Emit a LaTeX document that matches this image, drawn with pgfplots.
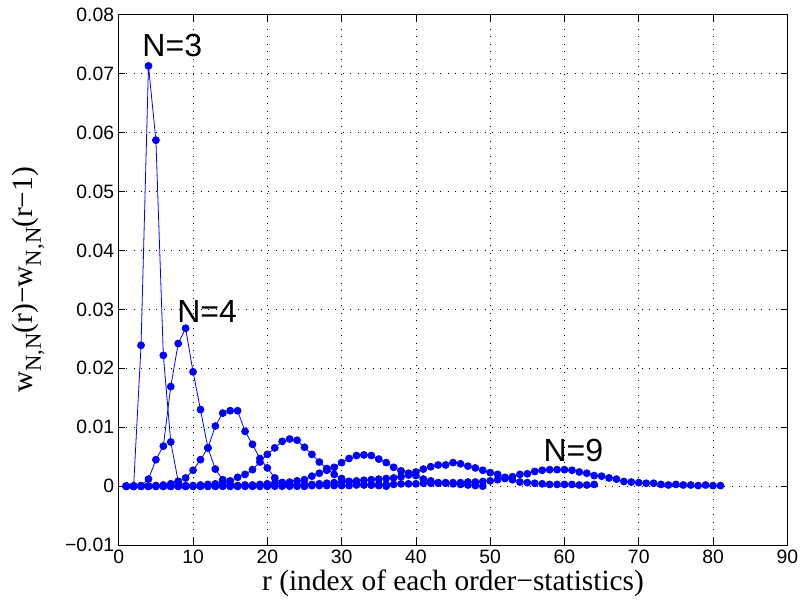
\documentclass[border=0pt]{standalone}
\usepackage{pgfplots}
\pgfplotsset{compat=1.18}
\usepackage{fontspec}
\setmainfont{Liberation Serif}
\newfontfamily\arial{Liberation Sans}
\definecolor{mblue}{RGB}{0,0,255}
\newcommand{\sub}[1]{\raisebox{-0.6ex}{\fontsize{17}{17}\selectfont #1}}
\pgfplotsset{myst/.style={color=mblue, line width=0.6pt, mark=*, mark size=2.6pt, mark options={fill=mblue, draw=mblue, solid}}}
\begin{document}
\begin{tikzpicture}
\useasboundingbox (-89pt,-46pt) rectangle (512pt,408.5pt);
\begin{axis}[
  anchor=south west, at={(0,0)},
  scale only axis, width=501pt, height=397.5pt,
  xmin=0, xmax=90, ymin=-0.01, ymax=0.08,
  xtick={0,10,20,30,40,50,60,70,80,90},
  xticklabels={0,10,20,30,40,50,60,70,80,90},
  ytick={-0.01,0,0.01,0.02,0.03,0.04,0.05,0.06,0.07,0.08},
  yticklabels={−0.01,0,0.01,0.02,0.03,0.04,0.05,0.06,0.07,0.08},
  tick align=inside, major tick length=5pt,
  tick style={black, line width=0.6pt},
  grid=major,
  major grid style={black, line width=0.6pt, dash pattern=on 0.6pt off 5pt},
  axis line style={black, line width=0.75pt},
  ticklabel style={font=\arial\fontsize{14.5}{17}\selectfont},
  xlabel={r (index of each order−statistics)},
  ylabel={w\sub{N,N}(r)−w\sub{N,N}(r−1)},
  label style={font=\fontsize{22}{26}\selectfont},
  xlabel style={at={(axis description cs:0.5,-0.072)}, anchor=center},
  ylabel style={at={(axis description cs:-0.135,0.5)}, anchor=center},
]
% N=3
\addplot[myst] coordinates {(1,0)(2,0)(3,0.0239)(4,0.0713)(5,0.0587)(6,0.0222)(7,0.0075)(8,0.0008)(9,0)};
% N=4
\addplot[myst] coordinates {(1,0)(2,0)(3,0.0001)(4,0.0012)(5,0.0045)(6,0.0068)(7,0.0169)(8,0.0242)(9,0.0268)(10,0.0194)(11,0.0130)(12,0.0065)(13,0.0029)(14,0.0011)(15,0.0003)(16,0)};
% N=5
\addplot[myst] coordinates {(1,0)(2,0)(3,0)(4,0)(5,0.0001)(6,0.0002)(7,0.0004)(8,0.0008)(9,0.0014)(10,0.0027)(11,0.0045)(12,0.0065)(13,0.0102)(14,0.0124)(15,0.0128)(16,0.0128)(17,0.0093)(18,0.0071)(19,0.0047)(20,0.0031)(21,0.0014)(22,0.0006)(23,0.0003)(24,0.0001)(25,0)};
% N=6
\addplot[myst] coordinates {(1,0)(2,0)(3,0)(4,0)(5,0)(6,0)(7,0)(8,0)(9,0.0001)(10,0.0001)(11,0.0002)(12,0.0003)(13,0.0004)(14,0.0006)(15,0.0009)(16,0.0015)(17,0.0020)(18,0.0028)(19,0.0041)(20,0.0054)(21,0.0065)(22,0.0076)(23,0.0080)(24,0.0078)(25,0.0066)(26,0.0054)(27,0.0041)(28,0.0030)(29,0.0020)(30,0.0013)(31,0.0008)(32,0.0005)(33,0.0003)(34,0.0002)(35,0.0001)(36,0)};
% N=7
\addplot[myst] coordinates {(1,0)(2,0)(3,0)(4,0)(5,0)(6,0)(7,0)(8,0)(9,0)(10,0)(11,0)(12,0)(13,0)(14,0.0001)(15,0.0001)(16,0.0001)(17,0.0002)(18,0.0002)(19,0.0003)(20,0.0004)(21,0.0005)(22,0.0006)(23,0.0007)(24,0.0009)(25,0.0011)(26,0.0017)(27,0.0022)(28,0.0027)(29,0.0032)(30,0.0040)(31,0.0047)(32,0.0052)(33,0.0053)(34,0.0052)(35,0.0046)(36,0.0040)(37,0.0032)(38,0.0026)(39,0.0022)(40,0.0018)(41,0.0012)(42,0.0009)(43,0.0006)(44,0.0005)(45,0.0004)(46,0.0003)(47,0.0002)(48,0.0001)(49,0)};
% N=8
\addplot[myst] coordinates {(1,0)(2,0)(3,0)(4,0)(5,0)(6,0)(7,0)(8,0)(9,0)(10,0)(11,0)(12,0)(13,0)(14,0)(15,0)(16,0)(17,0)(18,0)(19,0)(20,0)(21,0.0001)(22,0.0001)(23,0.0002)(24,0.0002)(25,0.0003)(26,0.0003)(27,0.0004)(28,0.0005)(29,0.0006)(30,0.0007)(31,0.0008)(32,0.0009)(33,0.0010)(34,0.0011)(35,0.0012)(36,0.0013)(37,0.0014)(38,0.0016)(39,0.0019)(40,0.0024)(41,0.0029)(42,0.0033)(43,0.0036)(44,0.0036)(45,0.0040)(46,0.0038)(47,0.0034)(48,0.0031)(49,0.0027)(50,0.0023)(51,0.0020)(52,0.0015)(53,0.0011)(54,0.0007)(55,0.0006)(56,0.0005)(57,0.0004)(58,0.0003)(59,0.0003)(60,0.0003)(61,0.0003)(62,0.0002)(63,0.0002)(64,0.0003)};
% N=9
\addplot[myst] coordinates {(1,0)(2,0)(3,0)(4,0)(5,0)(6,0)(7,0)(8,0)(9,0)(10,0)(11,0)(12,0)(13,0)(14,0)(15,0)(16,0)(17,0)(18,0)(19,0)(20,0)(21,0)(22,0)(23,0)(24,0)(25,0)(26,0.0001)(27,0.0001)(28,0.0001)(29,0.0001)(30,0.0001)(31,0.0001)(32,0.0002)(33,0.0002)(34,0.0002)(35,0.0003)(36,0.0003)(37,0.0003)(38,0.0004)(39,0.0004)(40,0.0004)(41,0.0005)(42,0.0005)(43,0.0005)(44,0.0006)(45,0.0006)(46,0.0006)(47,0.0007)(48,0.0007)(49,0.0008)(50,0.0009)(51,0.0011)(52,0.0013)(53,0.0016)(54,0.0020)(55,0.0021)(56,0.0025)(57,0.0027)(58,0.0028)(59,0.0028)(60,0.0028)(61,0.0027)(62,0.0024)(63,0.0022)(64,0.0018)(65,0.0017)(66,0.0014)(67,0.0012)(68,0.0008)(69,0.0007)(70,0.0006)(71,0.0005)(72,0.0005)(73,0.0003)(74,0.0002)(75,0.0003)(76,0.0002)(77,0.0002)(78,0.0001)(79,0.0002)(80,0.0001)(81,0.0001)};
\node[font=\arial\fontsize{24}{28}\selectfont] at (axis cs:7.2,0.0748) {N=3};
\node[font=\arial\fontsize{24}{28}\selectfont] at (axis cs:11.9,0.0296) {N=4};
\node[font=\arial\fontsize{24}{28}\selectfont] at (axis cs:61.2,0.0061) {N=9};
\end{axis}
\end{tikzpicture}
\end{document}
